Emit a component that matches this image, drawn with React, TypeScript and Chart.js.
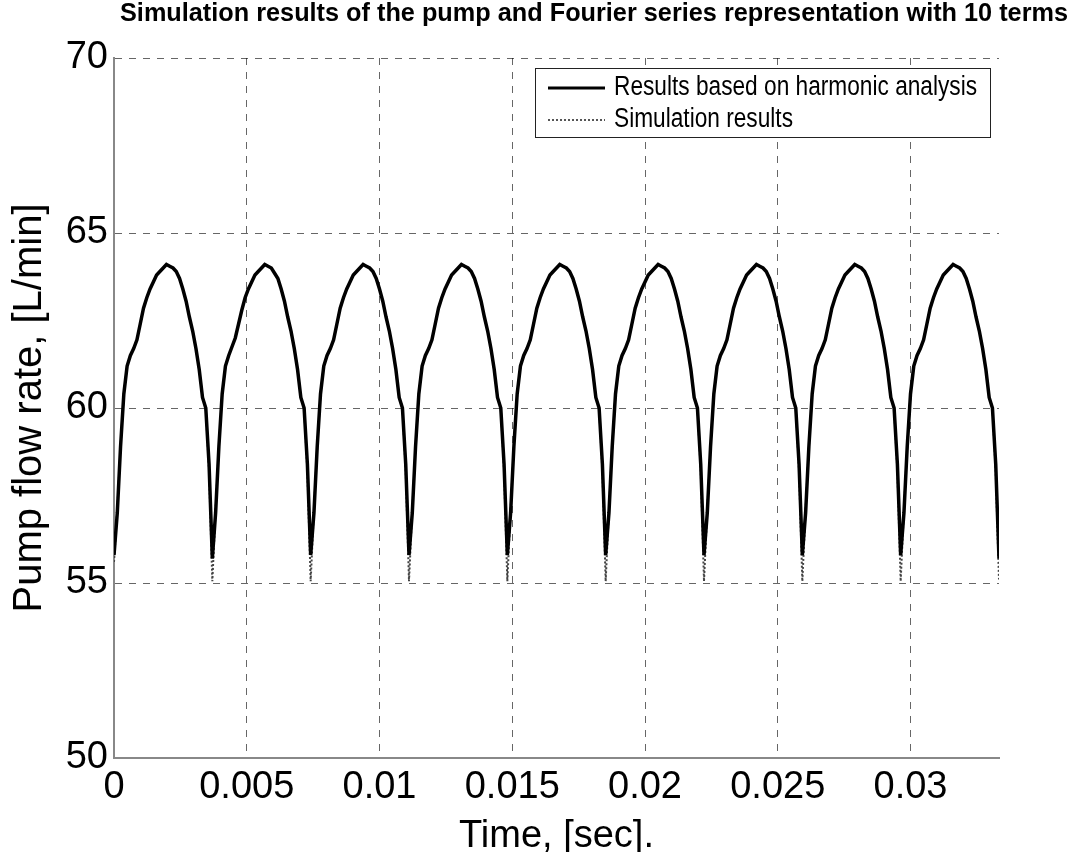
import React, { useEffect, useRef } from "react";
import { Chart, registerables } from "chart.js";

Chart.register(...registerables);

const TITLE = "Simulation results of the pump and Fourier series representation with 10 terms";
const X_LABEL = "Time, [sec].";
const Y_LABEL = "Pump flow rate, [L/min]";
const SERIES_NAMES = ["Results based on harmonic analysis", "Simulation results"];
const X_TICKS = [0, 0.005, 0.01, 0.015, 0.02, 0.025, 0.03];
const X_TICK_LABELS = ["0", "0.005", "0.01", "0.015", "0.02", "0.025", "0.03"];
const Y_TICKS = [50, 55, 60, 65, 70];

// Sampling grid: 9 pump cycles, 30 samples per cycle
const PERIOD = 1 / 270;
const SAMPLES_PER_PERIOD = 30;
const CYCLES = 9;
const X_MAX = CYCLES * PERIOD;

// Harmonic-analysis (Fourier, 10 terms) flow rate, L/min
const harmonic = [
  55.8, 57.0, 58.9, 60.4, 61.2, 61.5, 61.7, 61.95, 62.4, 62.85, 63.15, 63.4, 63.6, 63.8, 63.9, 64.0, 64.1, 64.05, 64.0, 63.9, 63.7, 63.4, 63.05, 62.6, 62.2, 61.7, 61.1, 60.3, 60.0, 58.4,
  55.7, 57.0, 58.9, 60.4, 61.2, 61.5, 61.75, 62.0, 62.4, 62.8, 63.15, 63.4, 63.6, 63.8, 63.9, 64.0, 64.1, 64.05, 64.0, 63.85, 63.7, 63.4, 63.05, 62.6, 62.2, 61.7, 61.1, 60.3, 60.0, 58.4,
  55.8, 57.0, 58.9, 60.4, 61.2, 61.5, 61.7, 61.95, 62.4, 62.85, 63.15, 63.4, 63.6, 63.8, 63.9, 64.0, 64.1, 64.05, 64.0, 63.9, 63.7, 63.4, 63.05, 62.6, 62.2, 61.7, 61.1, 60.3, 60.0, 58.4,
  55.8, 57.0, 58.9, 60.4, 61.2, 61.5, 61.7, 61.95, 62.4, 62.85, 63.15, 63.4, 63.6, 63.8, 63.9, 64.0, 64.1, 64.05, 64.0, 63.9, 63.7, 63.4, 63.05, 62.6, 62.2, 61.7, 61.1, 60.3, 60.0, 58.4,
  55.8, 57.0, 58.9, 60.4, 61.2, 61.5, 61.7, 61.95, 62.4, 62.85, 63.15, 63.4, 63.6, 63.8, 63.9, 64.0, 64.1, 64.05, 64.0, 63.9, 63.7, 63.4, 63.05, 62.6, 62.2, 61.7, 61.1, 60.3, 60.0, 58.4,
  55.8, 57.0, 58.9, 60.4, 61.2, 61.5, 61.7, 61.95, 62.4, 62.85, 63.15, 63.4, 63.6, 63.8, 63.9, 64.0, 64.1, 64.05, 64.0, 63.9, 63.7, 63.4, 63.05, 62.6, 62.2, 61.7, 61.1, 60.3, 60.0, 58.4,
  55.8, 57.0, 58.9, 60.4, 61.2, 61.5, 61.7, 61.95, 62.4, 62.85, 63.15, 63.4, 63.6, 63.8, 63.9, 64.0, 64.1, 64.05, 64.0, 63.9, 63.7, 63.4, 63.05, 62.6, 62.2, 61.7, 61.1, 60.3, 60.0, 58.4,
  55.8, 57.0, 58.9, 60.4, 61.2, 61.5, 61.7, 61.95, 62.4, 62.85, 63.15, 63.4, 63.6, 63.8, 63.9, 64.0, 64.1, 64.05, 64.0, 63.9, 63.7, 63.4, 63.05, 62.6, 62.2, 61.7, 61.1, 60.3, 60.0, 58.4,
  55.8, 57.0, 58.9, 60.4, 61.2, 61.5, 61.7, 61.95, 62.4, 62.85, 63.15, 63.4, 63.6, 63.8, 63.9, 64.0, 64.1, 64.05, 64.0, 63.9, 63.7, 63.4, 63.05, 62.6, 62.2, 61.7, 61.1, 60.3, 60.0, 58.4,
  55.7,
];

// Simulation flow rate, L/min (dips reach ~55)
const simulation = [
  55.6, 57.1, 58.9, 60.4, 61.2, 61.5, 61.7, 61.95, 62.4, 62.85, 63.15, 63.4, 63.6, 63.8, 63.9, 64.0, 64.1, 64.05, 64.0, 63.9, 63.7, 63.4, 63.05, 62.6, 62.2, 61.7, 61.1, 60.3, 60.0, 58.2,
  55.05, 57.1, 58.9, 60.4, 61.2, 61.5, 61.75, 62.0, 62.4, 62.8, 63.15, 63.4, 63.6, 63.8, 63.9, 64.0, 64.1, 64.05, 64.0, 63.85, 63.7, 63.4, 63.05, 62.6, 62.2, 61.7, 61.1, 60.3, 60.0, 58.2,
  55.05, 57.1, 58.9, 60.4, 61.2, 61.5, 61.7, 61.95, 62.4, 62.85, 63.15, 63.4, 63.6, 63.8, 63.9, 64.0, 64.1, 64.05, 64.0, 63.9, 63.7, 63.4, 63.05, 62.6, 62.2, 61.7, 61.1, 60.3, 60.0, 58.2,
  55.05, 57.1, 58.9, 60.4, 61.2, 61.5, 61.7, 61.95, 62.4, 62.85, 63.15, 63.4, 63.6, 63.8, 63.9, 64.0, 64.1, 64.05, 64.0, 63.9, 63.7, 63.4, 63.05, 62.6, 62.2, 61.7, 61.1, 60.3, 60.0, 58.2,
  55.05, 57.1, 58.9, 60.4, 61.2, 61.5, 61.7, 61.95, 62.4, 62.85, 63.15, 63.4, 63.6, 63.8, 63.9, 64.0, 64.1, 64.05, 64.0, 63.9, 63.7, 63.4, 63.05, 62.6, 62.2, 61.7, 61.1, 60.3, 60.0, 58.2,
  55.05, 57.1, 58.9, 60.4, 61.2, 61.5, 61.7, 61.95, 62.4, 62.85, 63.15, 63.4, 63.6, 63.8, 63.9, 64.0, 64.1, 64.05, 64.0, 63.9, 63.7, 63.4, 63.05, 62.6, 62.2, 61.7, 61.1, 60.3, 60.0, 58.2,
  55.05, 57.1, 58.9, 60.4, 61.2, 61.5, 61.7, 61.95, 62.4, 62.85, 63.15, 63.4, 63.6, 63.8, 63.9, 64.0, 64.1, 64.05, 64.0, 63.9, 63.7, 63.4, 63.05, 62.6, 62.2, 61.7, 61.1, 60.3, 60.0, 58.2,
  55.05, 57.1, 58.9, 60.4, 61.2, 61.5, 61.7, 61.95, 62.4, 62.85, 63.15, 63.4, 63.6, 63.8, 63.9, 64.0, 64.1, 64.05, 64.0, 63.9, 63.7, 63.4, 63.05, 62.6, 62.2, 61.7, 61.1, 60.3, 60.0, 58.2,
  55.05, 57.1, 58.9, 60.4, 61.2, 61.5, 61.7, 61.95, 62.4, 62.85, 63.15, 63.4, 63.6, 63.8, 63.9, 64.0, 64.1, 64.05, 64.0, 63.9, 63.7, 63.4, 63.05, 62.6, 62.2, 61.7, 61.1, 60.3, 60.0, 58.2,
  55.1,
];

const sampleTimes = harmonic.map((_, i) => (i * PERIOD) / SAMPLES_PER_PERIOD);

const FONT = "'Liberation Sans', Arial, Helvetica, sans-serif";

// Narrow (Arial-Narrow-like) text: regular font squeezed horizontally
function narrowText(ctx: any, text: string, x: number, y: number, sx: number, align: string) {
  ctx.save();
  ctx.translate(x, y);
  ctx.scale(sx, 1);
  ctx.textAlign = align;
  ctx.textBaseline = "middle";
  ctx.fillText(text, 0, 0);
  ctx.restore();
}

const titlePlugin = {
  id: "matlabTitle",
  afterDraw(chart: any) {
    const ctx = chart.ctx;
    ctx.save();
    ctx.fillStyle = "#000";
    ctx.font = `bold 25px ${FONT}`;
    const w = ctx.measureText(TITLE).width;
    const targetW = 948;
    narrowText(ctx, TITLE, 594, 14, targetW / w, "center");
    ctx.restore();
  },
};

const legendBoxPlugin = {
  id: "matlabLegend",
  afterDraw(chart: any) {
    const ctx = chart.ctx;
    const area = chart.chartArea;
    const right = area.right - 9;
    const left = right - 455;
    const top = area.top + 10;
    const h = 69;
    ctx.save();
    ctx.fillStyle = "#fff";
    ctx.fillRect(left, top, right - left, h);
    ctx.strokeStyle = "#222";
    ctx.lineWidth = 1;
    ctx.strokeRect(left + 0.5, top + 0.5, right - left, h);
    const rows = [top + 20, top + 52];
    ctx.strokeStyle = "#000";
    ctx.lineWidth = 3;
    ctx.setLineDash([]);
    ctx.beginPath();
    ctx.moveTo(left + 13, rows[0]);
    ctx.lineTo(left + 70, rows[0]);
    ctx.stroke();
    ctx.strokeStyle = "#555";
    ctx.lineWidth = 2;
    ctx.setLineDash([2, 2]);
    ctx.beginPath();
    ctx.moveTo(left + 13, rows[1]);
    ctx.lineTo(left + 70, rows[1]);
    ctx.stroke();
    ctx.setLineDash([]);
    ctx.fillStyle = "#000";
    ctx.font = `27px ${FONT}`;
    narrowText(ctx, SERIES_NAMES[0], left + 79, rows[0], 0.84, "left");
    narrowText(ctx, SERIES_NAMES[1], left + 79, rows[1], 0.84, "left");
    ctx.restore();
  },
};

export default function App() {
  const ref = useRef<HTMLCanvasElement | null>(null);

  useEffect(() => {
    document.body.style.margin = "0";
    const canvas = ref.current;
    if (!canvas) return;
    const chart = new Chart(canvas, {
      type: "line",
      data: {
        datasets: [
          {
            label: SERIES_NAMES[0],
            data: sampleTimes.map((t, i) => ({ x: t, y: harmonic[i] })),
            borderColor: "#000",
            borderWidth: 3.5,
            pointRadius: 0,
            tension: 0,
            fill: false,
          },
          {
            label: SERIES_NAMES[1],
            data: sampleTimes.map((t, i) => ({ x: t, y: simulation[i] })),
            borderColor: "#444",
            borderWidth: 2,
            borderDash: [2, 2],
            pointRadius: 0,
            tension: 0,
            fill: false,
          },
        ],
      },
      options: {
        responsive: false,
        animation: false,
        events: [],
        layout: { padding: { top: 58, right: 76, left: 0, bottom: 0 } },
        plugins: {
          legend: { display: false },
          title: { display: false },
          tooltip: { enabled: false },
        },
        scales: {
          x: {
            type: "linear",
            min: 0,
            max: X_MAX,
            afterBuildTicks: (scale: any) => {
              scale.ticks = X_TICKS.map((v) => ({ value: v }));
            },
            afterFit: (scale: any) => {
              scale.height = 94;
            },
            ticks: {
              autoSkip: false,
              maxRotation: 0,
              padding: 7,
              color: "#000",
              font: { family: FONT, size: 38 },
              callback: (v: any) => {
                const i = X_TICKS.findIndex((t) => Math.abs(t - Number(v)) < 1e-9);
                return i >= 0 ? X_TICK_LABELS[i] : "";
              },
            },
            grid: { color: "rgba(0,0,0,0.6)", lineWidth: 1, drawTicks: false },
            border: { display: true, color: "#888", width: 2, dash: [7, 7] },
            title: {
              display: true,
              text: X_LABEL,
              color: "#000",
              font: { family: FONT, size: 38, lineHeight: 1 },
              padding: { top: 0, bottom: -4 },
            },
          },
          y: {
            type: "linear",
            min: 50,
            max: 70,
            afterBuildTicks: (scale: any) => {
              scale.ticks = Y_TICKS.map((v) => ({ value: v }));
            },
            afterFit: (scale: any) => {
              scale.width = 114;
            },
            ticks: {
              padding: 6,
              color: "#000",
              font: { family: FONT, size: 38 },
            },
            grid: { color: "rgba(0,0,0,0.6)", lineWidth: 1, drawTicks: false },
            border: { display: true, color: "#888", width: 2, dash: [7, 7] },
            title: {
              display: true,
              text: Y_LABEL,
              color: "#000",
              font: { family: FONT, size: 40, lineHeight: 1.2 },
              padding: { top: 6, bottom: 0 },
            },
          },
        },
      },
      plugins: [titlePlugin, legendBoxPlugin],
    });
    return () => chart.destroy();
  }, []);

  return (
    <div style={{ position: "absolute", left: 0, top: 0, width: 1075, height: 852, background: "#fff" }}>
      <canvas ref={ref} width={1075} height={852} style={{ width: 1075, height: 852, display: "block" }} />
    </div>
  );
}
